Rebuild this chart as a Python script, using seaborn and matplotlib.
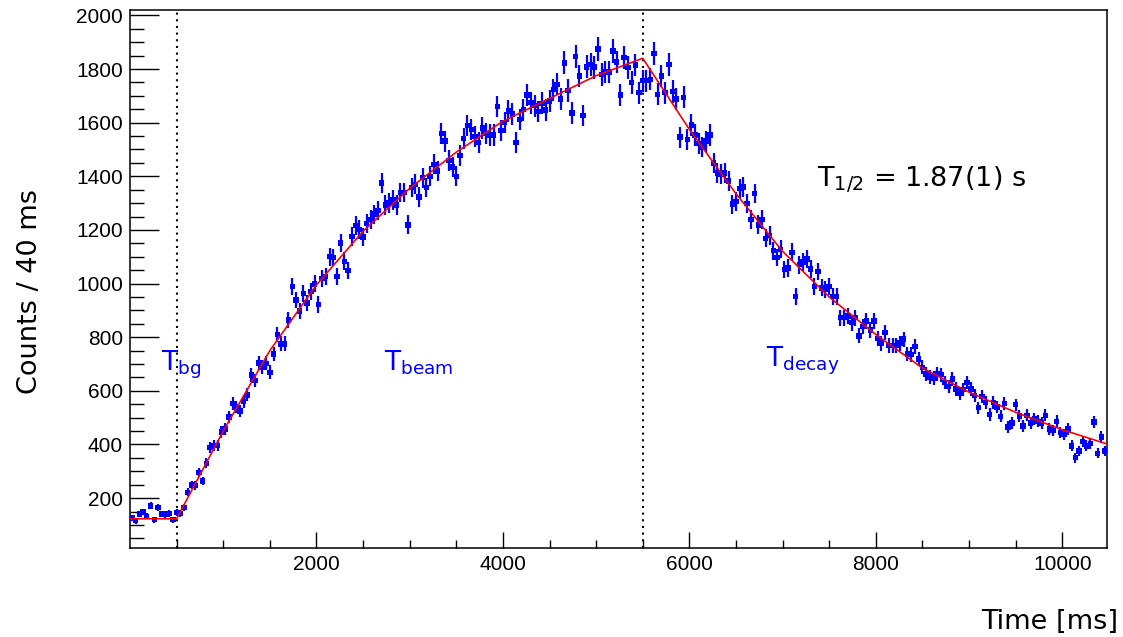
import numpy as np
import matplotlib.pyplot as plt
import seaborn as sns

# counts per 40 ms bin (bin 0 = 0-40 ms)
bin_width = 40
counts = [
    126, 116, 141, 148, 132, 171, 120, 165, 141, 139, 142, 120,
    147, 142, 165, 221, 249, 247, 295, 264, 330, 389, 397, 397,
    447, 457, 502, 552, 540, 525, 560, 585, 659, 638,
    704, 688, 703, 669, 737, 811, 775, 775, 864, 988, 938, 897, 964, 927, 971, 999,
    922, 1020, 1026, 1100, 1097, 1027, 1151, 1083, 1049, 1175, 1216, 1202, 1173, 1225, 1240, 1259,
    1272, 1375, 1293, 1301, 1311, 1293, 1340, 1340, 1219, 1358, 1370, 1323, 1395, 1358, 1400, 1445, 1420,
    1560, 1531, 1459, 1434, 1400, 1478, 1540, 1589, 1574, 1548, 1527, 1580, 1560, 1554, 1554, 1660, 1570,
    1601, 1644, 1632, 1527, 1611, 1648, 1703, 1675, 1663, 1642, 1672, 1647, 1681, 1723, 1743, 1688, 1823,
    1720, 1636, 1846, 1774, 1626, 1808, 1817, 1807, 1875, 1780, 1789, 1789, 1867, 1826, 1703, 1842, 1805, 1749, 1815, 1712,
    1756, 1756, 1762, 1857, 1706, 1774, 1712, 1817, 1716, 1688, 1546, 1694, 1536, 1591,
    1554, 1523, 1509, 1531, 1554, 1449, 1412, 1407, 1412, 1383, 1296, 1305, 1354, 1360, 1299, 1240, 1336, 1219, 1240, 1169, 1179, 1123, 1097,
    1128, 1052, 1058, 1116, 951, 1070, 1080, 1091, 1054, 990, 1046, 984, 978, 988, 951, 951, 873, 873, 879, 854, 873, 805, 840, 860, 827, 860,
    795, 778, 817, 770, 768, 768, 778, 793, 737, 735, 765, 719, 688, 663, 651, 648, 663, 660, 632, 617, 644, 607,
    591, 604, 632, 607, 583, 537, 580, 556, 512, 556, 540, 505, 552, 465, 480, 548, 506, 469, 509, 480,
    496, 486, 480, 509, 457, 453, 486, 444, 437, 457, 395, 351, 375, 412, 395, 404, 484, 367, 428, 375,
]
time = [bin_width / 2 + bin_width * i for i in range(len(counts))]

# fitted curve, sampled at the nodes it is drawn through
fit_t = [0, 500, 1000, 1500, 2000, 2500, 3000, 3500, 4000, 4500, 5000, 5500,
         6000, 6500, 7000, 7500, 8000, 8500, 9000, 9500, 10000, 10480]
fit_c = [123, 123, 450, 750, 995, 1195, 1355, 1490, 1605, 1690, 1775, 1840,
         1575, 1335, 1120, 950, 810, 685, 595, 520, 455, 402]

t_bg_end = 500
t_beam_end = 5500

sns.set_style("ticks")
plt.rcParams['font.family'] = ['DejaVu Sans']
plt.rcParams['mathtext.fontset'] = 'dejavusans'
plt.rcParams['text.color'] = 'black'
plt.rcParams['axes.labelcolor'] = 'black'
plt.rcParams['xtick.color'] = 'black'
plt.rcParams['ytick.color'] = 'black'

fig = plt.figure(figsize=(11.23, 6.37), dpi=100)
ax = fig.add_axes([130 / 1123, 1 - 548 / 637, 977 / 1123, 538 / 637])

ax.errorbar(time, counts, yerr=np.sqrt(counts), xerr=bin_width / 2, fmt='none',
            ecolor='#0000ff', elinewidth=1.6, capsize=0, zorder=2)
sns.scatterplot(x=time, y=counts, marker='s', color='#0000ff', s=15,
                edgecolor='none', ax=ax, zorder=3)
sns.lineplot(x=fit_t, y=fit_c, color='#ff0000', lw=1.2, ax=ax, zorder=4)

for t in (t_bg_end, t_beam_end):
    ax.axvline(t, color='black', ls=(0, (1, 2.2)), lw=1.5, zorder=1)

ax.set_xlim(0, 10480)
ax.set_ylim(14, 2020)
ax.set_xticks([2000, 4000, 6000, 8000, 10000])
ax.set_xticks(np.arange(500, 10480, 500), minor=True)
ax.set_yticks(np.arange(200, 2001, 200))
ax.set_yticks(np.arange(50, 2020, 50), minor=True)
ax.tick_params(axis='x', which='major', direction='in', length=11.5, width=1,
               pad=5, colors='black')
ax.tick_params(axis='x', which='minor', direction='in', length=5.8, width=1, colors='black')
ax.tick_params(axis='y', which='major', direction='in', length=21, width=1,
               pad=5, colors='black')
ax.tick_params(axis='y', which='minor', direction='in', length=10, width=1, colors='black')
for lab in ax.get_xticklabels() + ax.get_yticklabels():
    lab.set_family('Liberation Sans')
    lab.set_fontsize(15)
    lab.set_color('black')
for side in ax.spines.values():
    side.set_color('black')
    side.set_linewidth(1.1)

fig.text(30 / 1123, 1 - 292 / 637, 'Counts / 40 ms', rotation=90, fontsize=19.5,
         ha='center', va='center', color='black')
fig.text(1118 / 1123, 1 - 622 / 637, 'Time [ms]', fontsize=19.5, ha='right',
         va='center', color='black')

ax.text(332, 674, r'T$_{\mathrm{bg}}$', color='#0000ff', fontsize=19, va='baseline')
ax.text(2722, 674, r'T$_{\mathrm{beam}}$', color='#0000ff', fontsize=19, va='baseline')
ax.text(6827, 690, r'T$_{\mathrm{decay}}$', color='#0000ff', fontsize=19, va='baseline')
ax.text(7374, 1360, r'T$_{1/2}$ = 1.87(1) s', color='black', fontsize=19.5, va='baseline')

fig.savefig('out.png', dpi=100)
